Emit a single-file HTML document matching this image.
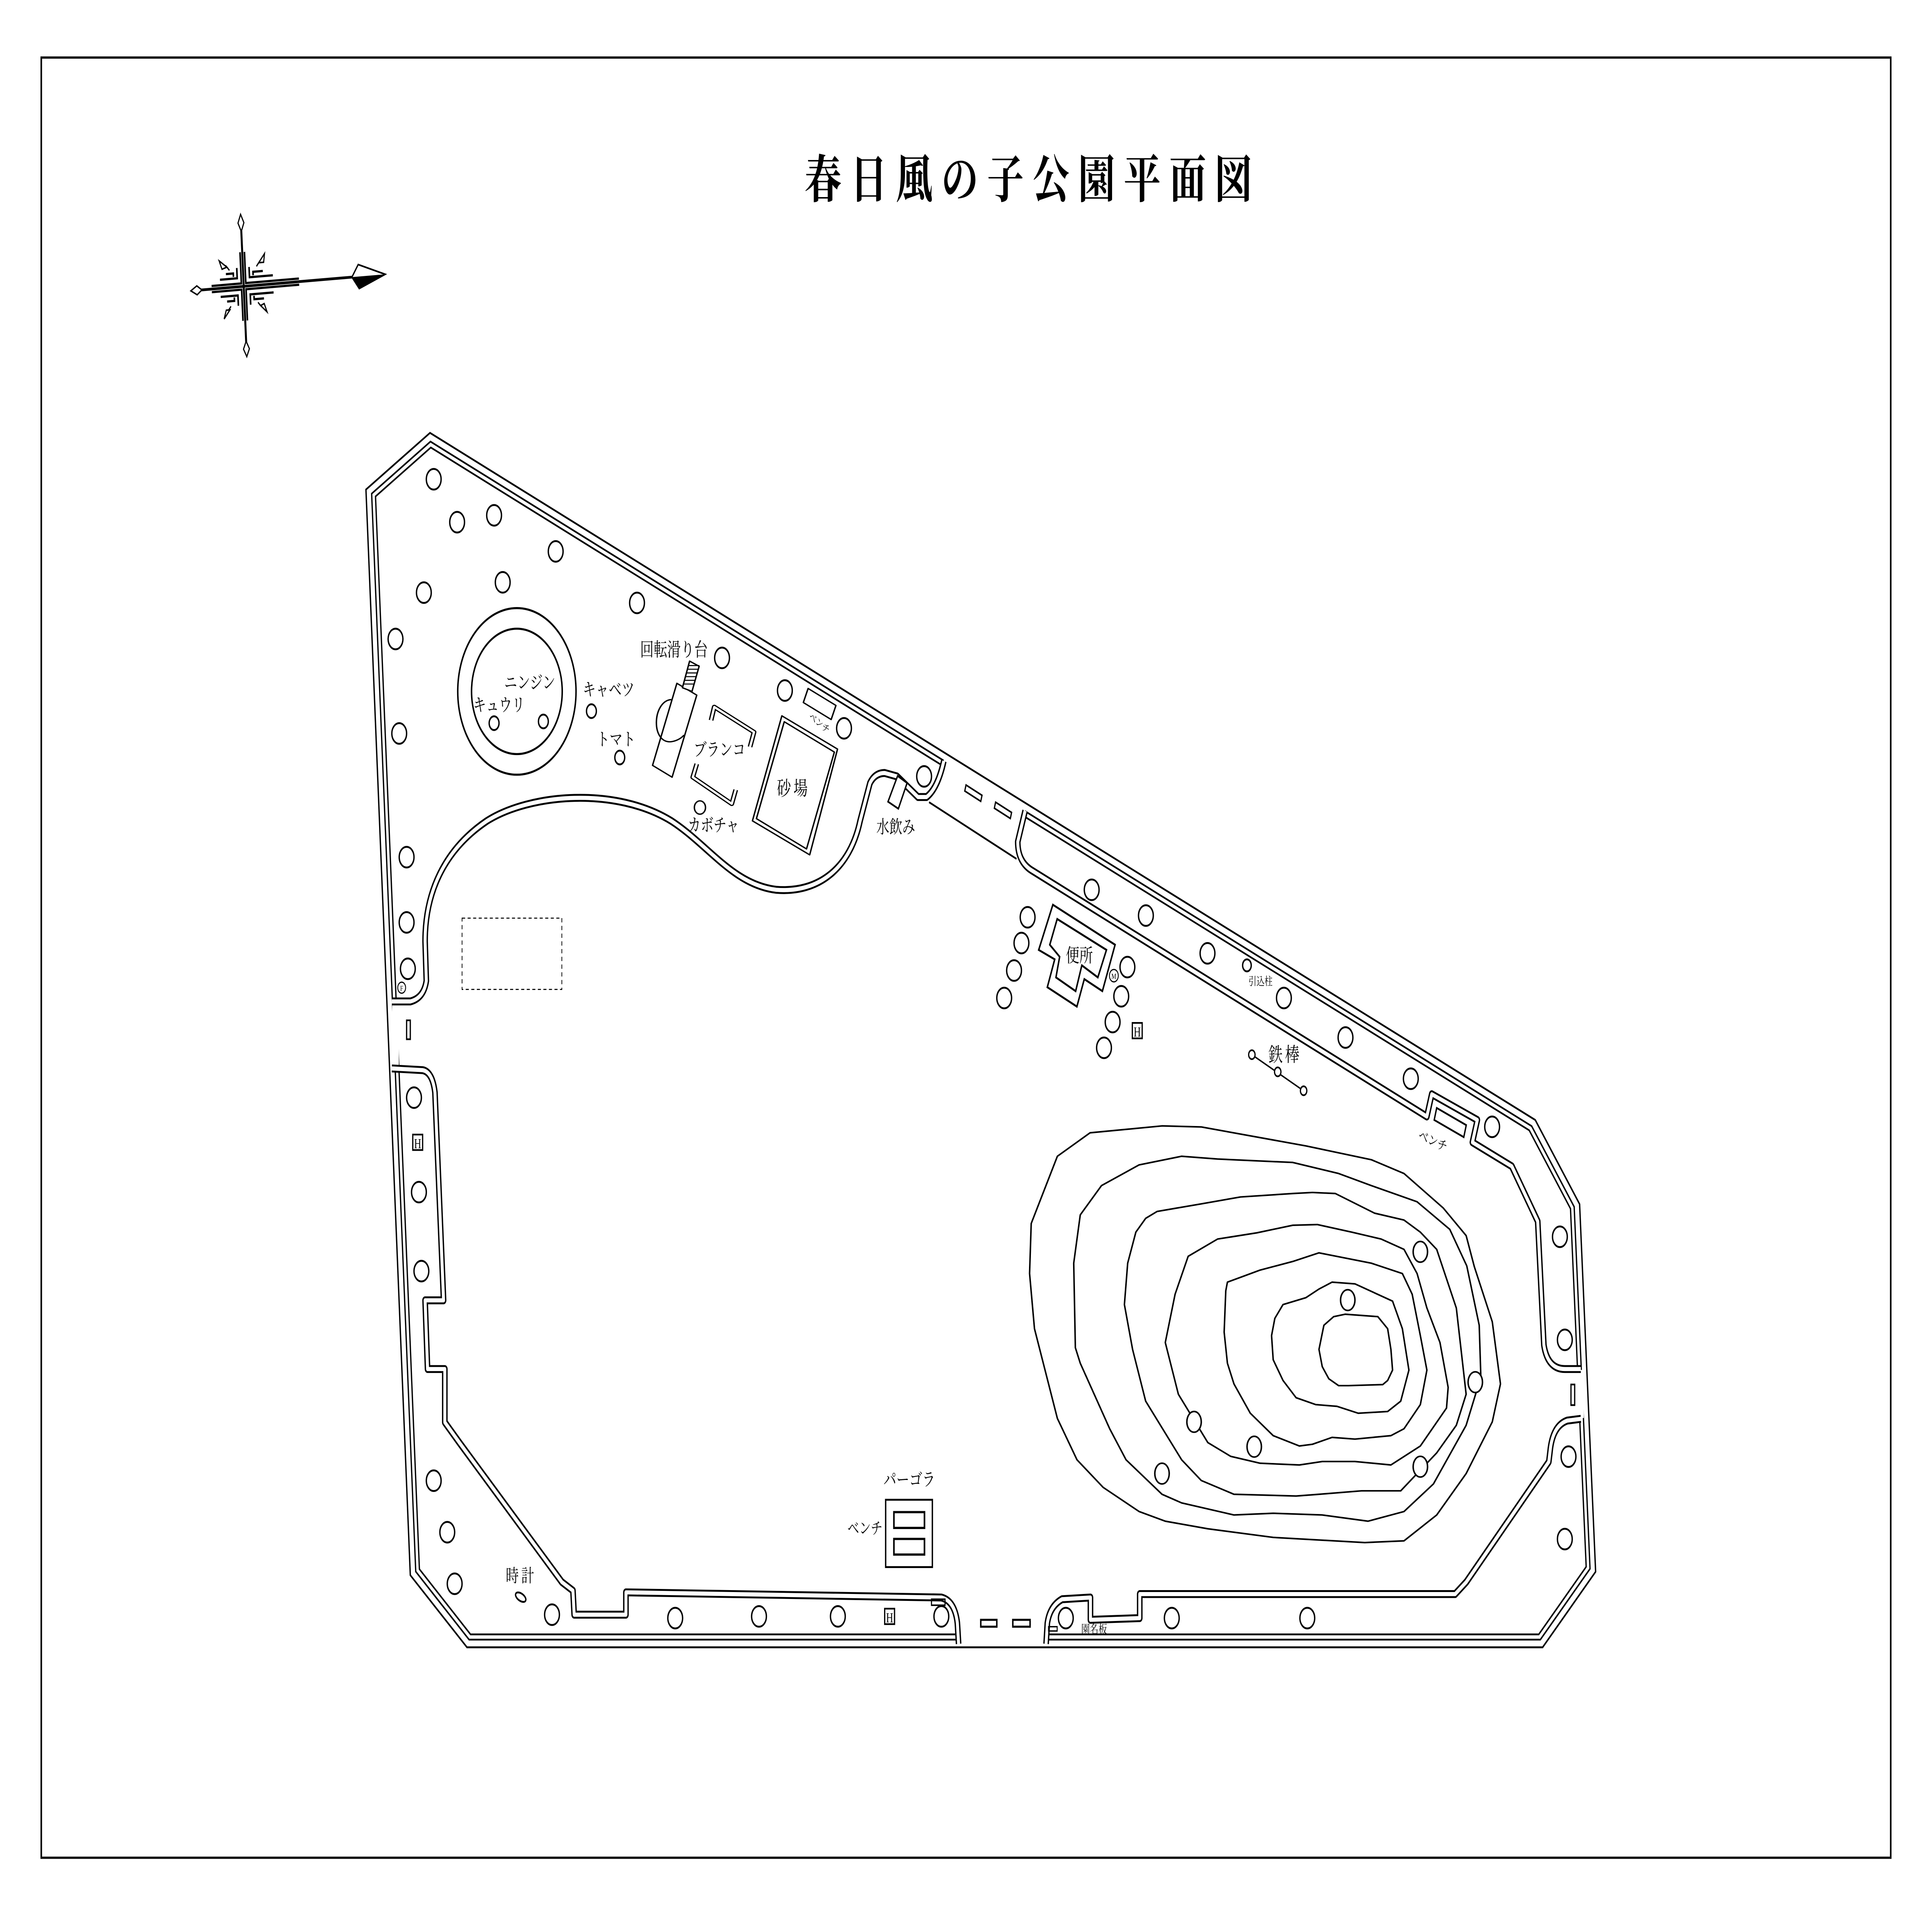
<!DOCTYPE html>
<html><head><meta charset="utf-8"><style>
html,body{margin:0;padding:0;background:#fff;width:100%;height:100%;overflow:hidden;}
svg{display:block;position:fixed;left:0;top:0;width:100vw;height:100vh;}
text{font-family:"Liberation Serif","Noto Serif CJK JP","Noto Serif CJK SC",serif;fill:#000;}
</style></head><body>
<svg viewBox="0 0 1568 1116" preserveAspectRatio="none" xmlns="http://www.w3.org/2000/svg">
<defs>
<path id="p1" d="M318,583 L333,583 Q344,581 346,571 L345,548 C345,520 360,495 395,478 C430,462 500,458 545,478 C575,492 595,515 630,518 C665,520 690,505 698,478 L706,456 Q710,450 718,450 L728,452 L745,464 L752,464 Q761,459 766,443"/>
<path id="p2" d="M832,472 L826,490 Q826,502 838,507 L1158,650 L1162,637 L1199,652 L1195,665 L1227,679 L1248,711 L1253,783 Q1256,797 1270,797 L1283,797"/>
<path id="p3" d="M1283,826 L1272,827 Q1260,830 1258,845 L1257,851 L1190,921 L1181,928 L925,928 L925,942 L885,943 L885,930 L862,931 Q852,935 850,945 L849,957"/>
<path id="p4" d="M778,957 L777,945 Q775,932 764,930 L508,927 L508,940 L466,940 L465,926 L456,921 L373,840 L361,828 L361,797 L347,797 L345,757 L360,757 L353,636 Q351,624 343,623 L318,622"/>
<polygon id="fence" points="303.2,288.2 349.5,258.8 1242.1,656.8 1276.1,703.1 1288.9,912.7 1249.5,953 381.3,953 338.9,914.2"/>
</defs>
<rect x="0" y="0" width="1568" height="1116" fill="#fff"/>
<rect x="33.5" y="33.5" width="1501" height="1048" fill="none" stroke="#000" stroke-width="1.3"/>
<text x="838" y="115" font-size="30" font-weight="bold" text-anchor="middle" letter-spacing="7">春日風の子公園平面図</text>

<g transform="translate(197.8,166.7) rotate(-3.5)" stroke="#000" fill="none">
<line x1="0" y1="-34" x2="0" y2="34" stroke-width="1.6"/>
<line x1="-36" y1="0" x2="90" y2="0" stroke-width="1.6"/>
<polygon points="0,-42 2.4,-37 0,-32 -2.4,-37" stroke-width="0.9" fill="#fff"/>
<polygon points="0,41 2.4,36.5 0,32 -2.4,36.5" stroke-width="0.9" fill="#fff"/>
<polygon points="-43,0 -38,-2.6 -34,0 -38,2.6" stroke-width="0.9" fill="#fff"/>
<polygon points="88,0 93.5,-7 115,0 93.5,7" stroke-width="1" fill="#fff"/>
<polygon points="88,0 115,0 93.5,7" fill="#000" stroke="none"/>
<g stroke-width="1.3">
<polyline points="1.8,-20 1.8,-1.8 45,-1.8"/><polyline points="5,-11 5,-5 24,-5"/><polyline points="8,-6 8,-8 16,-8"/>
<polyline points="-1.8,-20 -1.8,-1.8 -26,-1.8"/><polyline points="-5,-11 -5,-5 -19,-5"/><polyline points="-8,-6 -8,-8 -14,-8"/>
<polyline points="1.8,20 1.8,1.8 45,1.8"/><polyline points="5,11 5,5 24,5"/><polyline points="8,6 8,8 16,8"/>
<polyline points="-1.8,20 -1.8,1.8 -26,1.8"/><polyline points="-5,11 -5,5 -19,5"/><polyline points="-8,6 -8,8 -14,8"/>
</g>
<g stroke-width="0.9" fill="#fff">
<line x1="-11" y1="-10" x2="-14" y2="-13"/><polygon points="-13,-12 -19,-16 -17,-11"/>
<line x1="11" y1="-11" x2="14" y2="-14"/><polygon points="13,-13 18,-18 17,-13"/>
<line x1="-11" y1="11" x2="-13" y2="13"/><polygon points="-12,13 -17,18 -15,13"/>
<line x1="11" y1="10" x2="13" y2="12"/><polygon points="13,12 18,16 16,11"/>
</g>
</g>

<g fill="none" stroke="#000" stroke-linejoin="miter">
<polygon points="297,285 349,252 1246,652 1282,701 1295,915 1252,959 379,959 333,917" stroke-width="1.1"/>
<use href="#fence" stroke-width="4.1"/>
<use href="#fence" stroke="#fff" stroke-width="2"/>
</g>
<g fill="#fff" stroke="none">
<rect x="318.3" y="583.5" width="5.4" height="38"/>
<rect x="778.5" y="950.3" width="70" height="5.4"/>
<rect x="1279.8" y="797.5" width="5.6" height="28"/>
<polygon points="766,441.2 832,470.6 832,477.2 766,447.8"/>
</g>
<g fill="none" stroke-linejoin="round" stroke-linecap="butt">
<use href="#p1" stroke="#000" stroke-width="4.6"/><use href="#p1" stroke="#fff" stroke-width="2.4"/>
<use href="#p2" stroke="#000" stroke-width="4.6"/><use href="#p2" stroke="#fff" stroke-width="2.4"/>
<use href="#p3" stroke="#000" stroke-width="4.6"/><use href="#p3" stroke="#fff" stroke-width="2.4"/>
<use href="#p4" stroke="#000" stroke-width="4.6"/><use href="#p4" stroke="#fff" stroke-width="2.4"/>
</g>
<g fill="none" stroke="#000" stroke-width="1.1">
<line x1="754" y1="467" x2="825" y2="500"/>
<polygon points="784,457 797,463 796,466.5 783,460.5" stroke-width="1"/>
<polygon points="808,467 821,473 820,476.5 807,470.5" stroke-width="1"/>
<rect x="330" y="594" width="3" height="11" stroke-width="1"/>
<rect x="796" y="943" width="13" height="4" stroke-width="1.2"/>
<rect x="822" y="943" width="14" height="4" stroke-width="1.2"/>
<rect x="1275" y="806" width="3" height="12" stroke-width="1"/>
<rect x="756" y="931" width="11" height="3.5" stroke-width="0.9"/>
<rect x="851" y="947" width="7" height="2.5" stroke-width="0.8"/>
<rect x="375" y="534.5" width="81" height="41.5" stroke-width="0.6" stroke-dasharray="2.5,2"/>
</g>

<g fill="#fff" stroke="#000" stroke-width="1.1">
<circle cx="352" cy="279" r="6"/><circle cx="371" cy="304" r="6"/><circle cx="401" cy="300" r="6"/>
<circle cx="344" cy="345" r="6"/><circle cx="408" cy="339" r="6"/><circle cx="451" cy="321" r="6"/>
<circle cx="517" cy="351" r="6"/><circle cx="321" cy="372" r="6"/><circle cx="324" cy="427" r="6"/>
<circle cx="330" cy="499" r="6"/><circle cx="330" cy="537" r="6"/><circle cx="331" cy="564" r="6"/>
<circle cx="586" cy="383" r="6"/><circle cx="637" cy="402" r="6"/><circle cx="685" cy="424" r="6"/><circle cx="750" cy="452" r="6"/>
<circle cx="336" cy="639" r="6"/><circle cx="340" cy="694" r="6"/><circle cx="342" cy="740" r="6"/>
<circle cx="352" cy="862" r="6"/><circle cx="363" cy="892" r="6"/><circle cx="369" cy="922" r="6"/>
<circle cx="448" cy="940" r="6"/><circle cx="548" cy="942" r="6"/><circle cx="616" cy="941" r="6"/>
<circle cx="680" cy="941" r="6"/><circle cx="764" cy="941" r="6"/><circle cx="865" cy="942" r="6"/>
<circle cx="951" cy="942" r="6"/><circle cx="1061" cy="942" r="6"/>
<circle cx="886" cy="518" r="6"/><circle cx="930" cy="533" r="6"/><circle cx="980" cy="555" r="6"/>
<circle cx="1042" cy="581" r="6"/><circle cx="1092" cy="604" r="6"/><circle cx="1145" cy="628" r="6"/>
<circle cx="1211" cy="656" r="6"/><circle cx="1266" cy="720" r="6"/><circle cx="1270" cy="780" r="6"/>
<circle cx="1273" cy="848" r="6"/><circle cx="1270" cy="896" r="6"/>
<circle cx="834" cy="534" r="6"/><circle cx="829" cy="549" r="6"/><circle cx="823" cy="565" r="6"/><circle cx="815" cy="581" r="6"/>
<circle cx="915" cy="563" r="6"/><circle cx="910" cy="580" r="6"/><circle cx="903" cy="595" r="6"/><circle cx="896" cy="610" r="6"/>
<circle cx="480" cy="414" r="4"/><circle cx="503" cy="441" r="4"/><circle cx="401" cy="421" r="4"/><circle cx="441" cy="420" r="4"/>
<circle cx="1012" cy="562" r="3.5"/>
</g>
<g fill="none" stroke="#000" stroke-width="1.2">
<ellipse cx="419.5" cy="402.5" rx="48" ry="48.5"/>
<ellipse cx="419.5" cy="402.5" rx="36.8" ry="36.5"/>
<line x1="1016" y1="614" x2="1058" y2="635" stroke-width="0.9"/>
</g>
<g fill="#fff" stroke="#000" stroke-width="1"><circle cx="1016" cy="614" r="2.6"/><circle cx="1037" cy="624" r="2.6"/><circle cx="1058" cy="635" r="2.6"/></g>

<g fill="none" stroke="#000" stroke-width="1.2">
<polygon points="854.5,526.7 905,550 894.7,577 880,570 874,586 850,574.7 856,558.5 843,553"/>
<polygon points="858,535 898,553 891,569 878,562 873,577 857,569 860,557 852,550"/>
<circle cx="904" cy="568" r="3.6" stroke-width="0.7"/>
<circle cx="326" cy="575" r="3.2" stroke-width="0.7"/>
</g>
<text x="904" y="569.8" font-size="4.5" text-anchor="middle">M</text>
<text x="326" y="576.8" font-size="4.2" text-anchor="middle">F</text>

<g fill="#fff" stroke="#000">
<rect x="335" y="660.5" width="8" height="9" stroke-width="1"/><rect x="718" y="936.5" width="8" height="9" stroke-width="1"/><rect x="919" y="595.5" width="8" height="9" stroke-width="1"/>
</g>
<g font-size="8" text-anchor="middle"><text x="339" y="668.5">H</text><text x="722" y="944.5">H</text><text x="923" y="603.5">H</text></g>

<g fill="#fff" stroke="#000" stroke-width="1.1">
<polygon points="728.5,451.7 736.2,455.8 729.1,470.8 720.7,466.7"/>
<polygon points="1166,645 1190,655 1188,662 1164,652"/>
<rect x="718.8" y="873.1" width="37.9" height="39.2"/>
<rect x="725.5" y="880.3" width="24.8" height="9.2" stroke-width="1.3"/>
<rect x="725.5" y="895.9" width="24.8" height="9.1" stroke-width="1.3"/>
<ellipse cx="422.6" cy="929.8" rx="4.5" ry="2.2" transform="rotate(25 422.6 929.8)"/>
</g>

<g transform="translate(506.1,359.9) scale(0.1291,0.0861)" fill="none" stroke="#000" stroke-width="9" stroke-linejoin="round">
<path d="M300,550 C180,560 170,850 300,835 C330,830 360,815 380,790"/>
<polygon points="335,440 460,520 305,1075 182,995"/>
<polygon points="415,290 475,325 430,495 370,470" fill="#fff"/>
<g stroke-width="7"><line x1="408" y1="320" x2="476" y2="320"/><line x1="400" y1="345" x2="470" y2="345"/><line x1="395" y1="370" x2="463" y2="370"/><line x1="389" y1="395" x2="457" y2="395"/><line x1="383" y1="420" x2="450" y2="420"/><line x1="376" y1="445" x2="444" y2="445"/></g>
<path d="M550,690 L570,600 L820,770 L795,870" stroke-width="30"/>
<path d="M550,690 L570,600 L820,770 L795,870" stroke="#fff" stroke-width="14"/>
<path d="M460,985 L435,1075 L680,1255 L705,1160" stroke-width="30"/>
<path d="M460,985 L435,1075 L680,1255 L705,1160" stroke="#fff" stroke-width="14"/>
<polygon points="995,660 1345,885 1170,1600 810,1370"/>
<polygon points="1010,700 1325,905 1150,1560 835,1355"/>
<polygon points="1160,475 1335,590 1305,685 1130,570"/>
<ellipse cx="480" cy="1280" rx="35" ry="45"/>
</g>

<g transform="translate(821,641) scale(0.2654,0.2008)" fill="none" stroke="#000" stroke-width="4.6" stroke-linejoin="round">
<polygon points="60,355 140,160 240,92 460,72 580,75 900,130 1100,170 1200,210 1320,310 1390,390 1415,480 1470,640 1495,820 1470,930 1390,1080 1300,1200 1200,1275 1080,1280 800,1265 600,1240 470,1218 390,1190 280,1120 200,1040 140,920 70,660 55,500"/>
<polygon points="275,245 390,185 520,160 630,168 860,178 1000,210 1100,245 1240,292 1340,372 1392,478 1430,650 1435,800 1390,940 1290,1110 1200,1190 1090,1218 950,1200 800,1195 680,1200 520,1165 460,1140 350,1040 300,950 210,760 195,715 190,470 210,330"/>
<polygon points="445,320 580,298 700,278 860,268 920,265 990,268 1110,325 1200,345 1250,380 1300,430 1360,600 1390,850 1360,940 1300,1020 1190,1130 1070,1130 940,1140 870,1145 680,1140 580,1100 520,1040 410,870 370,720 345,590 355,470 380,380 410,340"/>
<polygon points="630,400 750,382 860,360 935,358 1040,380 1130,400 1200,430 1240,500 1270,600 1310,700 1335,830 1330,890 1250,1000 1160,1055 1050,1045 950,1045 880,1055 760,1050 670,1030 600,990 510,850 470,700 500,560 540,450"/>
<polygon points="660,525 760,490 860,465 940,440 1100,470 1195,500 1225,560 1250,680 1270,780 1250,880 1200,950 1160,970 1050,980 980,975 920,995 880,1000 800,970 730,905 680,820 660,760 650,670 655,550"/>
<polygon points="830,590 900,570 940,545 980,525 1050,530 1165,580 1195,660 1215,780 1190,870 1150,900 1060,905 995,885 930,880 870,860 830,810 800,750 795,680 805,630"/>
<polygon points="1020,618 1120,625 1150,660 1160,720 1165,780 1150,810 1135,822 1030,825 1000,825 970,805 950,770 940,720 955,650 985,625"/>
<g fill="#fff">
<ellipse cx="1250" cy="437" rx="22" ry="30"/><ellipse cx="1028" cy="577" rx="22" ry="30"/><ellipse cx="1418" cy="815" rx="22" ry="30"/>
<ellipse cx="558" cy="930" rx="22" ry="30"/><ellipse cx="742" cy="1002" rx="22" ry="30"/><ellipse cx="1250" cy="1060" rx="22" ry="30"/><ellipse cx="460" cy="1080" rx="22" ry="30"/>
</g>
</g>

<g font-size="10.5" text-anchor="middle">
<text x="430" y="401">ニンジン</text>
<text x="405" y="414">キュウリ</text>
<text x="494" y="405">キャベツ</text>
<text x="500" y="434">トマト</text>
<text x="547" y="382" font-size="11">回転滑り台</text>
<text x="584" y="440">ブランコ</text>
<text x="579" y="484">カボチャ</text>
<text x="644" y="463" font-size="11.5" letter-spacing="2">砂場</text>
<text x="727" y="485">水飲み</text>
<text x="876" y="560" font-size="11">便所</text>
<text x="1043" y="618" font-size="11.5" letter-spacing="2">鉄棒</text>
<text x="738" y="865">パーゴラ</text>
<text x="702" y="893" font-size="9.5">ベンチ</text>
<text x="423" y="921" font-size="10.5" letter-spacing="2">時計</text>
<text x="888" y="951" font-size="7">園名板</text>
<text x="1023" y="573.5" font-size="6.5">引込柱</text>
<text x="1163" y="667" font-size="8" transform="rotate(18 1163 664)">ベンチ</text>
<text x="665" y="423" font-size="6" transform="rotate(30 665 421)">ベンチ</text>
</g>
</svg>
</body></html>
